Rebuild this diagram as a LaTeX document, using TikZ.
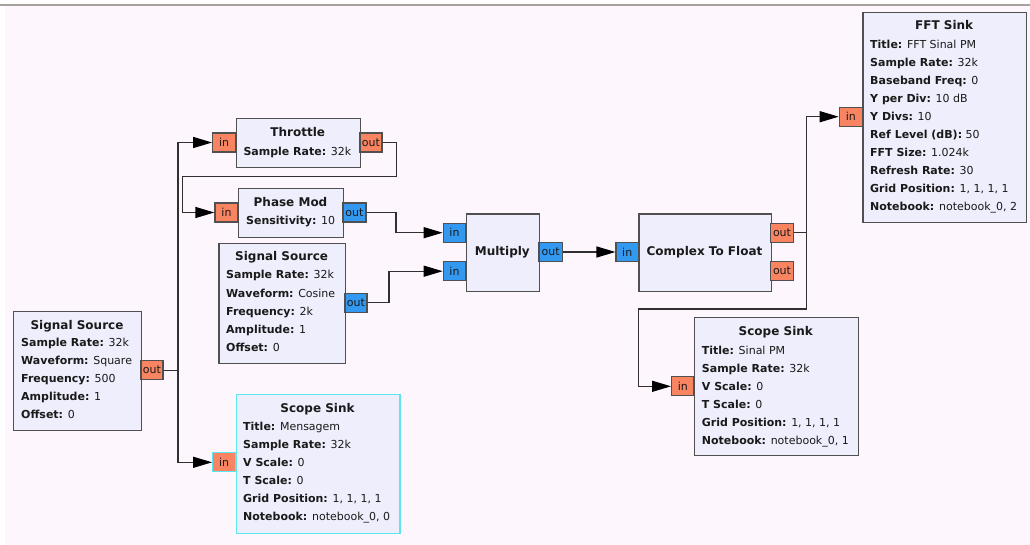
\documentclass[tikz,border=0pt]{standalone}
\usepackage{fontspec}
\setmainfont{DejaVu Sans}
\usetikzlibrary{arrows.meta}
\definecolor{bgpink}{HTML}{FDF7FD}
\definecolor{topline}{HTML}{A8A09C}
\definecolor{blkfill}{HTML}{EEEEFC}
\definecolor{blkbord}{HTML}{505050}
\definecolor{porange}{HTML}{F98462}
\definecolor{pblue}{HTML}{3399F0}
\definecolor{wirec}{HTML}{303030}
\definecolor{selcyan}{HTML}{5CE6F2}
\definecolor{txtc}{HTML}{1A1A1A}
\tikzset{
  blockbox/.style={draw=blkbord, fill=blkfill, line width=1.3pt, rectangle, inner sep=0pt, anchor=north west},
  portbox/.style={draw=blkbord, line width=1.2pt, rectangle, inner sep=0pt, minimum height=19pt, text=txtc, font=\fontsize{11}{12}\selectfont},
  oport/.style={portbox, fill=porange},
  bport/.style={portbox, fill=pblue},
  ttl/.style={anchor=base, inner sep=0pt, text=txtc, font=\fontsize{12}{14}\selectfont\bfseries},
  prm/.style={anchor=base west, inner sep=0pt, text=txtc, font=\fontsize{11}{13}\selectfont},
  wire/.style={draw=wirec, line width=1.2pt, -{Triangle[length=19pt,width=11pt,color=black]}},
}
\begin{document}
\begin{tikzpicture}[x=1pt,y=-1pt]
\useasboundingbox (0,0) rectangle (1030,545);
\fill[white] (0,0) rectangle (1030,545);
\fill[bgpink] (5,5) rectangle (1030,545);
\draw[topline, line width=1.2pt] (0,5) -- (1030,5);

% ---------- blocks ----------
\node[blockbox, minimum width=128pt, minimum height=119pt] (ssa) at (13,311) {};
\node[ttl] (ssat) at (77,329.3) {Signal Source};
\node[prm] (ssa1) at (21,346.5) {\textbf{Sample Rate:} 32k};
\node[prm] (ssa2) at (21,364.5) {\textbf{Waveform:} Square};
\node[prm] (ssa3) at (21,382.5) {\textbf{Frequency:} 500};
\node[prm] (ssa4) at (21,400.5) {\textbf{Amplitude:} 1};
\node[prm] (ssa5) at (21,418.5) {\textbf{Offset:} 0};

\node[blockbox, minimum width=124.3pt, minimum height=49pt] (thr) at (235.7,118) {};
\node[ttl] (thrt) at (297.8,136.7) {Throttle};
\node[prm] (thr1) at (243.3,155.7) {\textbf{Sample Rate:} 32k};

\node[blockbox, minimum width=105pt, minimum height=49pt] (pm) at (238,188) {};
\node[ttl] (pmt) at (290.5,206.7) {Phase Mod};
\node[prm] (pm1) at (246,224.5) {\textbf{Sensitivity:} 10};

\node[blockbox, minimum width=126.7pt, minimum height=120.3pt] (ssb) at (218.3,242.7) {};
\node[ttl] (ssbt) at (281.6,261) {Signal Source};
\node[prm] (ssb1) at (226,279) {\textbf{Sample Rate:} 32k};
\node[prm] (ssb2) at (226,297) {\textbf{Waveform:} Cosine};
\node[prm] (ssb3) at (226,315) {\textbf{Frequency:} 2k};
\node[prm] (ssb4) at (226,333) {\textbf{Amplitude:} 1};
\node[prm] (ssb5) at (226,351) {\textbf{Offset:} 0};

\node[blockbox, minimum width=73.3pt, minimum height=77.4pt] (mul) at (465.7,213.3) {};
\node[ttl] (mult) at (502.3,255.7) {Multiply};

\node[blockbox, minimum width=132.4pt, minimum height=77.4pt] (ctf) at (638.3,213.3) {};
\node[ttl] (ctft) at (704.5,255.7) {Complex To Float};

\node[blockbox, minimum width=163.7pt, minimum height=210pt] (fft) at (862.3,11.7) {};
\node[ttl] (fftt) at (944.2,30) {FFT Sink};
\node[prm] (fft1) at (870,48.3) {\textbf{Title:} FFT Sinal PM};
\node[prm] (fft2) at (870,66.3) {\textbf{Sample Rate:} 32k};
\node[prm] (fft3) at (870,84.3) {\textbf{Baseband Freq:} 0};
\node[prm] (fft4) at (870,102.3) {\textbf{Y per Div:} 10 dB};
\node[prm] (fft5) at (870,120.3) {\textbf{Y Divs:} 10};
\node[prm] (fft6) at (870,138.3) {\textbf{Ref Level (dB):} 50};
\node[prm] (fft7) at (870,156.3) {\textbf{FFT Size:} 1.024k};
\node[prm] (fft8) at (870,174.3) {\textbf{Refresh Rate:} 30};
\node[prm] (fft9) at (870,192.3) {\textbf{Grid Position:} 1, 1, 1, 1};
\node[prm] (fft10) at (870,210.3) {\textbf{Notebook:} notebook\_0, 2};

\node[blockbox, minimum width=163.7pt, minimum height=138.3pt] (ssr) at (694,316.7) {};
\node[ttl] (ssrt) at (775.8,335.3) {Scope Sink};
\node[prm] (ssr1) at (701.7,354) {\textbf{Title:} Sinal PM};
\node[prm] (ssr2) at (701.7,372) {\textbf{Sample Rate:} 32k};
\node[prm] (ssr3) at (701.7,390) {\textbf{V Scale:} 0};
\node[prm] (ssr4) at (701.7,408) {\textbf{T Scale:} 0};
\node[prm] (ssr5) at (701.7,426) {\textbf{Grid Position:} 1, 1, 1, 1};
\node[prm] (ssr6) at (701.7,444) {\textbf{Notebook:} notebook\_0, 1};

\node[blockbox, draw=selcyan, minimum width=163.6pt, minimum height=138.7pt] (ssl) at (235.7,394) {};
\node[ttl] (sslt) at (317.5,412.3) {Scope Sink};
\node[prm] (ssl1) at (243,430) {\textbf{Title:} Mensagem};
\node[prm] (ssl2) at (243,448) {\textbf{Sample Rate:} 32k};
\node[prm] (ssl3) at (243,466) {\textbf{V Scale:} 0};
\node[prm] (ssl4) at (243,484) {\textbf{T Scale:} 0};
\node[prm] (ssl5) at (243,502) {\textbf{Grid Position:} 1, 1, 1, 1};
\node[prm] (ssl6) at (243,520) {\textbf{Notebook:} notebook\_0, 0};

% ---------- ports ----------
\node[oport, minimum width=22pt] (ssaout) at (152,370.2) {out};
\node[oport, minimum width=23pt] (thrin) at (224.2,142.5) {in};
\node[oport, minimum width=22pt] (throut) at (371,142.5) {out};
\node[oport, minimum width=23pt] (pmin) at (226.5,212.5) {in};
\node[bport, minimum width=23pt] (pmout) at (354.5,212.5) {out};
\node[bport, minimum width=22pt] (ssbout) at (356,302.8) {out};
\node[bport, minimum width=22.4pt] (mulin1) at (454.5,232.7) {in};
\node[bport, minimum width=22.4pt] (mulin2) at (454.5,271.2) {in};
\node[bport, minimum width=23.3pt] (mulout) at (550.7,252) {out};
\node[bport, minimum width=22.3pt] (ctfin) at (627.2,252) {in};
\node[oport, minimum width=22.6pt] (ctfout1) at (782,232.7) {out};
\node[oport, minimum width=22.6pt] (ctfout2) at (782,271.2) {out};
\node[oport, minimum width=23pt] (fftin) at (850.8,116.7) {in};
\node[oport, minimum width=22.3pt] (ssrin) at (682.8,386.3) {in};
\node[oport, draw=selcyan, minimum width=23pt] (sslin) at (224.2,462.3) {in};

% ---------- connectors ----------
\coordinate (ja) at (178,370.2);
\coordinate (jb1) at (396.7,176.7);
\coordinate (jb2) at (182.7,176.7);
\coordinate (jc) at (396,212.5);
\coordinate (jd) at (389,302.8);
\coordinate (je) at (806.7,232.7);
\coordinate (jf1) at (806.7,309);
\coordinate (jf2) at (638.3,309);

\draw[wire] (ssaout.east) -- (ja) |- (thrin.west);
\draw[wire] (ssaout.east) -- (ja) |- (sslin.west);
\draw[wire] (throut.east) -| (jb1) -- (jb2) |- (pmin.west);
\draw[wire] (pmout.east) -- (jc) |- (mulin1.west);
\draw[wire] (ssbout.east) -- (jd) |- (mulin2.west);
\draw[wire] (mulout.east) -- (ctfin.west);
\draw[wire] (ctfout1.east) -- (je) |- (fftin.west);
\draw[wire] (ctfout1.east) -- (je) -- (jf1) -- (jf2) |- (ssrin.west);
\end{tikzpicture}
\end{document}
